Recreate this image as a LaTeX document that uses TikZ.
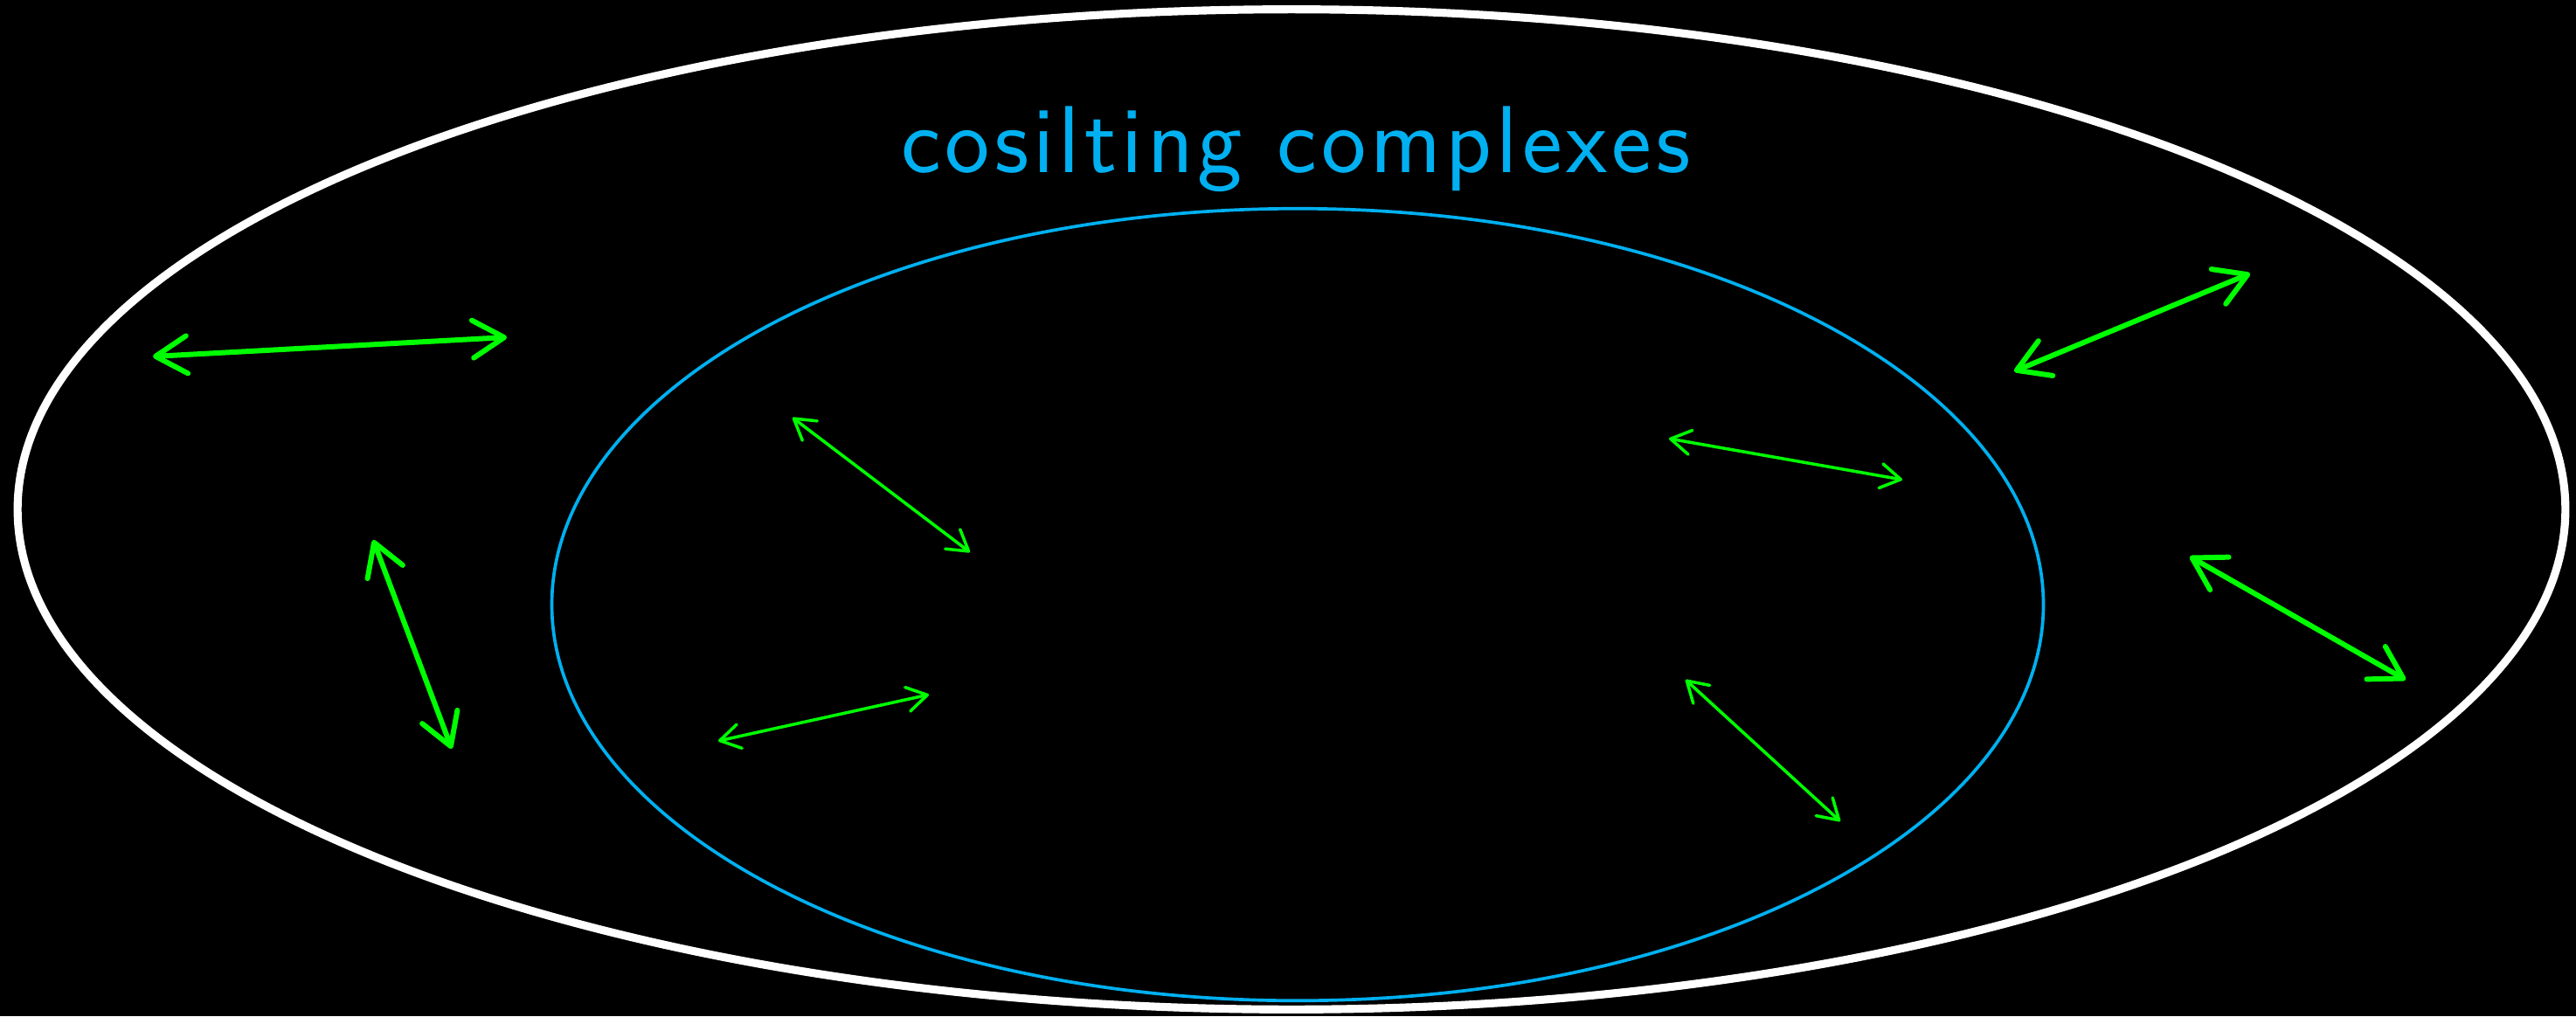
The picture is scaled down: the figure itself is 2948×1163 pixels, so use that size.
\documentclass[tikz,border=0pt]{standalone}
\usepackage{fontspec}
\usepackage{tikz}
\usetikzlibrary{arrows.meta}
\newfontfamily\titlefont[LetterSpace=4.7]{Latin Modern Sans}
\definecolor{skyline}{HTML}{00B0F0}
\definecolor{arrgreen}{HTML}{00FF00}

\tikzset{
  bigarr/.style={arrgreen, line width=1.7pt, line cap=round,
    {Straight Barb[length=3.6mm,width=4.3mm,round]}-{Straight Barb[length=3.6mm,width=4.3mm,round]}},
  smallarr/.style={arrgreen, line width=1pt, line cap=round,
    {Straight Barb[length=2.3mm,width=2.8mm,round]}-{Straight Barb[length=2.3mm,width=2.8mm,round]}},
}

\begin{document}
\begin{tikzpicture}[x=0.01cm, y=-0.01cm]
  % background and frame of the page
  \fill[black] (0,0) rectangle (2948,1163);

  % the two sets
  \draw[white, line width=2.6pt] (1478,583) ellipse [x radius=14.57cm, y radius=5.72cm];
  \draw[skyline, line width=1.05pt] (1485,692) ellipse [x radius=8.53cm, y radius=4.53cm];
  \node[skyline, anchor=base, font=\titlefont\fontsize{31}{36}\selectfont] (title) at (1483,197) {cosilting complexes};

  % end points, outer region
  \coordinate (oa1) at (175,408);  \coordinate (oa2) at (580,386);
  \coordinate (ob1) at (427,618);  \coordinate (ob2) at (517,857);
  \coordinate (oc1) at (2305,425); \coordinate (oc2) at (2575,313);
  \coordinate (od1) at (2506,637); \coordinate (od2) at (2753,778);
  % end points, inner region
  \coordinate (ia1) at (907,478);  \coordinate (ia2) at (1110,632);
  \coordinate (ib1) at (822,848);  \coordinate (ib2) at (1063,795);
  \coordinate (ic1) at (1910,502); \coordinate (ic2) at (2177,549);
  \coordinate (id1) at (1929,778); \coordinate (id2) at (2106,940);

  \draw[bigarr] (oa1) -- (oa2);
  \draw[bigarr] (ob1) -- (ob2);
  \draw[bigarr] (oc1) -- (oc2);
  \draw[bigarr] (od1) -- (od2);

  \draw[smallarr] (ia1) -- (ia2);
  \draw[smallarr] (ib1) -- (ib2);
  \draw[smallarr] (ic1) -- (ic2);
  \draw[smallarr] (id1) -- (id2);
\end{tikzpicture}
\end{document}
